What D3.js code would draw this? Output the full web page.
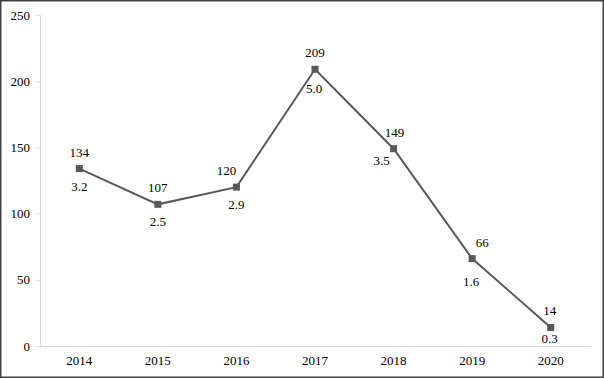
<!DOCTYPE html>
<html>
<head>
<meta charset="utf-8">
<script src="https://cdn.jsdelivr.net/npm/d3@7"></script>
<style>
  body { margin: 0; background: #fff; }
</style>
</head>
<body>
<main></main>
<script>
const years = ['2014', '2015', '2016', '2017', '2018', '2019', '2020']
const counts = [134, 107, 120, 209, 149, 66, 14]
const shares = ['3.2', '2.5', '2.9', '5.0', '3.5', '1.6', '0.3']
const yTicks = [0, 50, 100, 150, 200, 250]

// small nudges so labels sit off the line like in the original
const topNudge = [0, 0, -10, 0, 1, 10, -1]
const bottomNudge = [0, 0, 0, -1, -12, -1, -1]
const bottomDrop = [22, 22, 22, 24, 16, 27, 16]

const FONT = 'Liberation Serif'
const size = { width: 604, height: 378 }
const margin = { left: 40, right: 14, top: 15, bottom: 32 }

const svg = d3.select('main')
    .append('svg')
    .attr('width', size.width)
    .attr('height', size.height)
    .style('display', 'block')

// outer frame
svg.append('rect')
    .attr('x', 0.75).attr('y', 0.75)
    .attr('width', size.width - 1.5).attr('height', size.height - 1.5)
    .attr('fill', '#fff')
    .attr('stroke', '#404040')
    .attr('stroke-width', 1.5)

const xScale = d3.scaleBand()
    .domain(years)
    .range([margin.left, size.width - margin.right])

const yScale = d3.scaleLinear()
    .domain([0, 250])
    .range([size.height - margin.bottom, margin.top])

const yAxis = svg.append('g')
    .attr('transform', `translate(${margin.left},0)`)
    .call(d3.axisLeft(yScale).tickValues(yTicks).tickSize(4).tickPadding(6))
yAxis.attr('font-family', FONT).attr('font-size', 13)
yAxis.select('.domain').attr('stroke', '#d9d9d9')
yAxis.selectAll('.tick line').attr('stroke', '#d9d9d9')
yAxis.selectAll('text').attr('fill', '#000').attr('font-family', FONT)

const xAxis = svg.append('g')
    .attr('transform', `translate(0,${size.height - margin.bottom})`)
    .call(d3.axisBottom(xScale).tickSize(0).tickPadding(10))
xAxis.attr('font-family', FONT).attr('font-size', 13)
xAxis.select('.domain').attr('stroke', '#d9d9d9')
xAxis.selectAll('text').attr('fill', '#000').attr('font-family', FONT)

const cx = (d, i) => xScale(years[i]) + xScale.bandwidth() / 2

const line = d3.line()
    .x((d, i) => cx(d, i))
    .y(d => yScale(d))

svg.append('path')
    .datum(counts)
    .attr('fill', 'none')
    .attr('stroke', '#595959')
    .attr('stroke-width', 2)
    .attr('d', line)

svg.selectAll('.marker')
    .data(counts)
    .enter()
    .append('rect')
    .attr('class', 'marker')
    .attr('x', (d, i) => cx(d, i) - 3.5)
    .attr('y', d => yScale(d) - 3.5)
    .attr('width', 7)
    .attr('height', 7)
    .attr('fill', '#595959')

svg.selectAll('.top-label')
    .data(counts)
    .enter()
    .append('text')
    .attr('class', 'top-label')
    .attr('x', (d, i) => cx(d, i) + topNudge[i])
    .attr('y', d => yScale(d) - 12)
    .attr('text-anchor', 'middle')
    .attr('font-family', FONT)
    .attr('font-size', 13)
    .text(d => d)

svg.selectAll('.bottom-label')
    .data(shares)
    .enter()
    .append('text')
    .attr('class', 'bottom-label')
    .attr('x', (d, i) => cx(d, i) + bottomNudge[i])
    .attr('y', (d, i) => yScale(counts[i]) + bottomDrop[i])
    .attr('text-anchor', 'middle')
    .attr('font-family', FONT)
    .attr('font-size', 13)
    .text(d => d)
</script>
</body>
</html>
